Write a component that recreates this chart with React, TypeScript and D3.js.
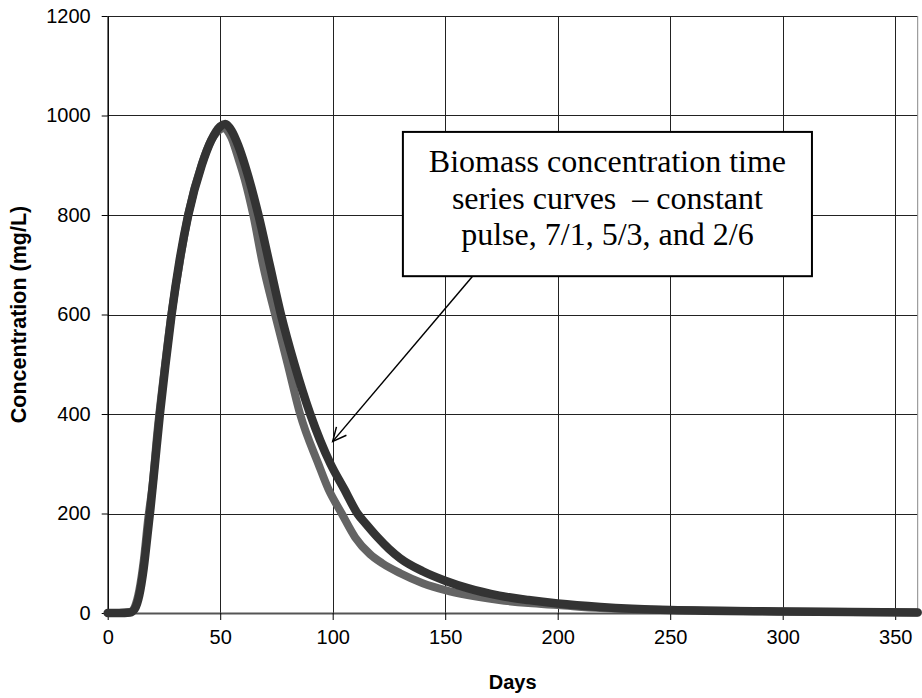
import React, { useEffect, useRef } from 'react';
import * as d3 from 'd3';

// dark series (drawn on top)
const darkDays = [0, 5, 10, 12, 14, 16, 18, 19, 21, 23.2, 25.7, 28.4, 32, 35.8, 41.8, 46, 50, 52.2, 55, 58, 61, 67, 72, 77, 83, 90, 99, 105, 111, 115, 120, 125, 130, 140, 150, 160, 174, 187, 200, 219, 250, 300, 360];
const darkValues = [0, 0, 1, 8, 35, 90, 170, 210, 300, 400, 500, 600, 710, 800, 900, 950, 978, 983, 970, 940, 900, 800, 700, 600, 500, 400, 300, 250, 200, 178, 152, 129, 110, 84, 65, 50, 35, 26, 19, 12, 6, 3, 1];

// lighter series
const greyDays = [0, 5, 10, 12, 14, 16, 18, 20, 22, 25, 28, 32, 36, 42, 46, 50, 51.5, 55, 58, 61, 64.7, 69, 74.4, 80, 85.5, 93.6, 98, 104, 110, 116.6, 122, 130, 140, 150, 160, 174, 187, 200, 219, 250, 300, 360];
const greyValues = [0, 0, 2, 12, 45, 105, 190, 260, 360, 480, 590, 705, 805, 905, 950, 972, 975, 955, 915, 870, 800, 700, 600, 500, 400, 300, 250, 200, 152, 118, 100, 80, 60, 46, 36, 26, 20, 16, 10, 6, 3, 1];

const xTicks = [0, 50, 100, 150, 200, 250, 300, 350];
const yTicks = [0, 200, 400, 600, 800, 1000, 1200];

const noteLines = ['Biomass concentration time', 'series curves  \u2013 constant', 'pulse, 7/1, 5/3, and 2/6'];

const App: React.FC = () => {
  const svgRef = useRef<SVGSVGElement>(null);

  useEffect(() => {
    if (!svgRef.current) return;
    const svg = d3.select(svgRef.current);
    svg.selectAll('*').remove();

    const left = 107.7;
    const right = 917.7;
    const top = 16;
    const bottom = 613;

    const x = d3.scaleLinear().domain([0, 360]).range([left, right]);
    const y = d3.scaleLinear().domain([0, 1200]).range([bottom, top]);

    // grid
    svg
      .append('g')
      .selectAll('line')
      .data(xTicks.filter((d) => d > 0))
      .enter()
      .append('line')
      .attr('x1', (d) => Math.round(x(d)) + 0.5)
      .attr('x2', (d) => Math.round(x(d)) + 0.5)
      .attr('y1', top)
      .attr('y2', bottom)
      .attr('stroke', '#222')
      .attr('stroke-width', 1);

    svg
      .append('g')
      .selectAll('line')
      .data(yTicks.filter((d) => d > 0))
      .enter()
      .append('line')
      .attr('x1', left)
      .attr('x2', right)
      .attr('y1', (d) => Math.round(y(d)) + 0.5)
      .attr('y2', (d) => Math.round(y(d)) + 0.5)
      .attr('stroke', '#222')
      .attr('stroke-width', 1);

    // right border
    svg
      .append('line')
      .attr('x1', right)
      .attr('x2', right)
      .attr('y1', top)
      .attr('y2', bottom)
      .attr('stroke', '#888')
      .attr('stroke-width', 1);

    // axes
    const xAxis = svg
      .append('g')
      .attr('transform', `translate(0,${bottom})`)
      .call(d3.axisBottom(x).tickValues(xTicks).tickFormat(d3.format('d')).tickSize(7).tickPadding(10).tickSizeOuter(0));
    xAxis.select('.domain').attr('stroke', '#555').attr('stroke-width', 2);
    xAxis.selectAll('.tick line').attr('stroke', '#000');
    xAxis.selectAll('text').style('font-family', '"Liberation Sans", Arial, sans-serif').style('font-size', '20px').attr('fill', '#000');

    const yAxis = svg
      .append('g')
      .attr('transform', `translate(${left},0)`)
      .call(d3.axisLeft(y).tickValues(yTicks).tickFormat(d3.format('d')).tickSize(6).tickPadding(11).tickSizeOuter(0));
    yAxis.select('.domain').attr('stroke', '#000').attr('stroke-width', 1.5);
    yAxis.selectAll('.tick line').attr('stroke', '#000');
    yAxis.selectAll('text').style('font-family', '"Liberation Sans", Arial, sans-serif').style('font-size', '20px').attr('fill', '#000');

    // series
    const line = d3
      .line<[number, number]>()
      .x((d) => x(d[0]))
      .y((d) => y(d[1]))
      .curve(d3.curveMonotoneX);

    const greyData = greyDays.map((d, i) => [d, greyValues[i]] as [number, number]);
    const darkData = darkDays.map((d, i) => [d, darkValues[i]] as [number, number]);

    svg
      .append('path')
      .attr('d', line(greyData))
      .attr('fill', 'none')
      .attr('stroke', '#646464')
      .attr('stroke-width', 8)
      .attr('stroke-linejoin', 'round');

    svg
      .append('path')
      .attr('d', line(darkData))
      .attr('fill', 'none')
      .attr('stroke', '#333')
      .attr('stroke-width', 8.5)
      .attr('stroke-linejoin', 'round')
      .attr('stroke-linecap', 'round');

    // annotation arrow (data coords)
    const tipX = x(100);
    const tipY = y(345);
    const tailX = x(166.5);
    const tailY = y(700);
    const ang = Math.atan2(tailY - tipY, tailX - tipX);
    const headLen = 15;
    const spread = 0.45;
    svg
      .append('line')
      .attr('x1', tailX)
      .attr('y1', tailY)
      .attr('x2', tipX)
      .attr('y2', tipY)
      .attr('stroke', '#000')
      .attr('stroke-width', 1.5);
    svg
      .append('path')
      .attr(
        'd',
        `M${tipX + headLen * Math.cos(ang - spread)},${tipY + headLen * Math.sin(ang - spread)}L${tipX},${tipY}L${tipX + headLen * Math.cos(ang + spread)},${tipY + headLen * Math.sin(ang + spread)}`
      )
      .attr('fill', 'none')
      .attr('stroke', '#000')
      .attr('stroke-width', 1.5);

    // annotation box
    const bx0 = x(131.2);
    const bx1 = x(313);
    const by0 = y(967);
    const by1 = y(677);
    svg
      .append('rect')
      .attr('x', bx0)
      .attr('y', by0)
      .attr('width', bx1 - bx0)
      .attr('height', by1 - by0)
      .attr('fill', '#fff')
      .attr('stroke', '#000')
      .attr('stroke-width', 2);

    svg
      .append('g')
      .selectAll('text')
      .data(noteLines)
      .enter()
      .append('text')
      .attr('x', (bx0 + bx1) / 2)
      .attr('y', (_, i) => by0 + 40 + i * 36.7)
      .attr('text-anchor', 'middle')
      .style('font-family', '"Liberation Serif", "Times New Roman", serif')
      .style('font-size', '32px')
      .style('white-space', 'pre')
      .attr('fill', '#000')
      .text((d) => d);

    // axis titles
    svg
      .append('text')
      .attr('x', (left + right) / 2)
      .attr('y', 689)
      .attr('text-anchor', 'middle')
      .style('font-family', '"Liberation Sans", Arial, sans-serif')
      .style('font-size', '20px')
      .style('font-weight', 'bold')
      .text('Days');

    svg
      .append('text')
      .attr('transform', `translate(26,${(top + bottom) / 2}) rotate(-90)`)
      .attr('text-anchor', 'middle')
      .style('font-family', '"Liberation Sans", Arial, sans-serif')
      .style('font-size', '21.5px')
      .style('font-weight', 'bold')
      .text('Concentration (mg/L)');
  }, []);

  return (
    <svg
      ref={svgRef}
      width={922}
      height={698}
      style={{ position: 'absolute', left: 0, top: 0, background: '#fff' }}
    ></svg>
  );
};

export default App;
